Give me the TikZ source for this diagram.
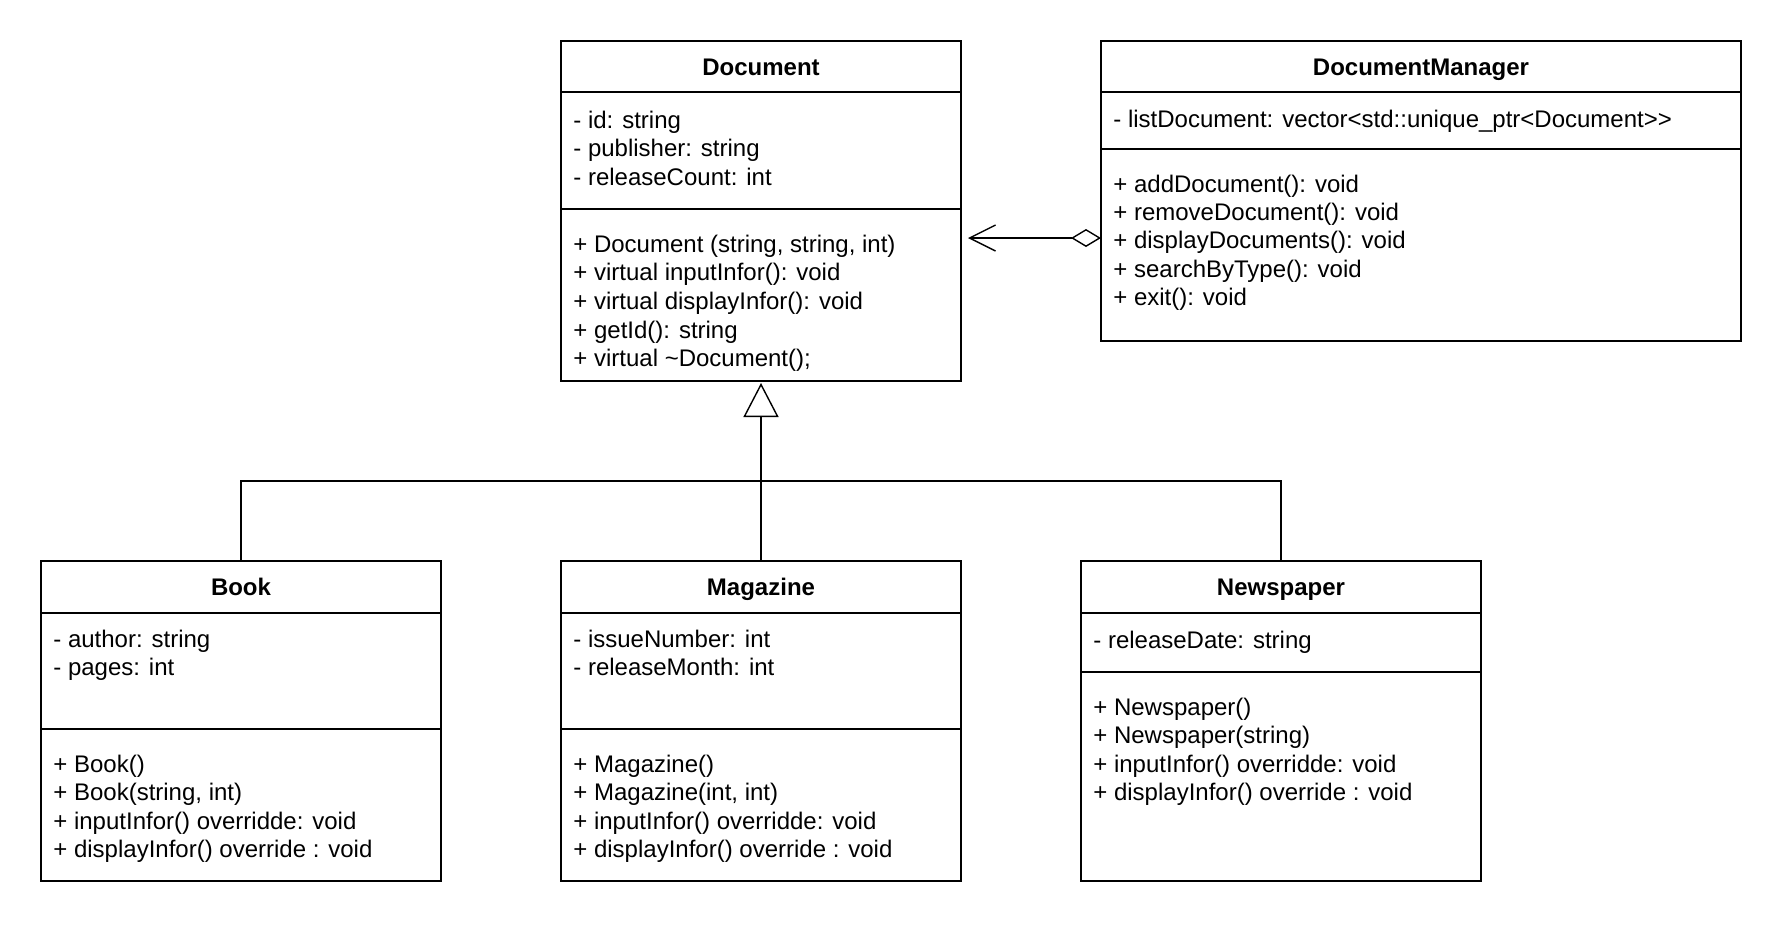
\documentclass[tikz,border=0pt]{standalone}
\usepackage{fontspec}
\setmainfont{Liberation Sans}
\usetikzlibrary{arrows.meta}

\begin{document}
\begin{tikzpicture}[x=0.5pt, y=-0.5pt,
    cls/.style = {draw, line width=0.8pt, anchor=north west, inner sep=0pt, outer sep=0pt},
    ttl/.style = {anchor=base, inner sep=0pt, font=\fontsize{12pt}{14pt}\selectfont\bfseries},
    txt/.style = {anchor=base west, inner sep=0pt, font=\fontsize{12pt}{14pt}\selectfont},
    sep/.style = {line width=0.8pt},
    lnk/.style = {line width=0.7pt}]
  \fill[white] (0,0) rectangle (1784,928);
  \useasboundingbox (0,0) rectangle (1784,928);

  % class boxes
  \node[cls, minimum width=200pt, minimum height=170pt] (doc) at (561,41) {};
  \node[cls, minimum width=320pt, minimum height=150pt] (dm) at (1101,41) {};
  \node[cls, minimum width=200pt, minimum height=160pt] (book) at (41,561) {};
  \node[cls, minimum width=200pt, minimum height=160pt] (mag) at (561,561) {};
  \node[cls, minimum width=200pt, minimum height=160pt] (news) at (1081,561) {};

  % compartments
  \draw[sep] (doc.west |- 0,92) -- (doc.east |- 0,92);
  \draw[sep] (doc.west |- 0,209) -- (doc.east |- 0,209);
  \draw[sep] (dm.west |- 0,92) -- (dm.east |- 0,92);
  \draw[sep] (dm.west |- 0,149) -- (dm.east |- 0,149);
  \draw[sep] (book.west |- 0,613) -- (book.east |- 0,613);
  \draw[sep] (book.west |- 0,729) -- (book.east |- 0,729);
  \draw[sep] (mag.west |- 0,613) -- (mag.east |- 0,613);
  \draw[sep] (mag.west |- 0,729) -- (mag.east |- 0,729);
  \draw[sep] (news.west |- 0,613) -- (news.east |- 0,613);
  \draw[sep] (news.west |- 0,672) -- (news.east |- 0,672);

  % titles
  \node[ttl] (doct) at (doc.north |- 0,75) {Document};
  \node[ttl] (dmt) at (dm.north |- 0,75) {DocumentManager};
  \node[ttl] (bookt) at (book.north |- 0,595) {Book};
  \node[ttl] (magt) at (mag.north |- 0,595) {Magazine};
  \node[ttl] (newst) at (news.north |- 0,595) {Newspaper};

  % Document
  \foreach \s [count=\i] in {{- id: string}, {- publisher: string}, {- releaseCount: int}}
    \node[txt] (doca\i) at (573,{128+28.7*(\i-1)}) {\s};
  \foreach \s [count=\i] in {{+ Document (string, string, int)}, {+ virtual inputInfor(): void},
      {+ virtual displayInfor(): void}, {+ getId(): string}, {+ virtual \textasciitilde Document();}}
    \node[txt] (docm\i) at (573,{252+28.7*(\i-1)}) {\s};

  % DocumentManager
  \node[txt] (dma1) at (1113,127) {- listDocument: vector<std::unique\_ptr<Document>{}>};
  \foreach \s [count=\i] in {{+ addDocument(): void}, {+ removeDocument(): void},
      {+ displayDocuments(): void}, {+ searchByType(): void}, {+ exit(): void}}
    \node[txt] (dmm\i) at (1113,{192+28.4*(\i-1)}) {\s};

  % Book
  \foreach \s [count=\i] in {{- author: string}, {- pages: int}}
    \node[txt] (booka\i) at (53,{647+28.5*(\i-1)}) {\s};
  \foreach \s [count=\i] in {{+ Book()}, {+ Book(string, int)},
      {+ inputInfor() overridde: void}, {+ displayInfor() override : void}}
    \node[txt] (bookm\i) at (53,{772+28.5*(\i-1)}) {\s};

  % Magazine
  \foreach \s [count=\i] in {{- issueNumber: int}, {- releaseMonth: int}}
    \node[txt] (maga\i) at (573,{647+28.5*(\i-1)}) {\s};
  \foreach \s [count=\i] in {{+ Magazine()}, {+ Magazine(int, int)},
      {+ inputInfor() overridde: void}, {+ displayInfor() override : void}}
    \node[txt] (magm\i) at (573,{772+28.5*(\i-1)}) {\s};

  % Newspaper
  \node[txt] (newsa1) at (1093,648) {- releaseDate: string};
  \foreach \s [count=\i] in {{+ Newspaper()}, {+ Newspaper(string)},
      {+ inputInfor() overridde: void}, {+ displayInfor() override : void}}
    \node[txt] (newsm\i) at (1093,{715+28.5*(\i-1)}) {\s};

  % inheritance
  \coordinate (bus) at (doc.south |- 0,481);
  \draw[lnk] (book.north) |- (bus) -| (news.north);
  \draw[lnk, -{Triangle[open, length=17pt, width=17.5pt, fill=white]}, shorten >=1pt]
    (mag.north) -- (doc.south);

  % aggregation
  \draw[lnk, {Diamond[open, length=15pt, width=9pt, fill=white]}-{Straight Barb[length=13pt, width=13pt]},
    shorten >=3.5pt] (dm.west |- 0,238) -- (doc.east |- 0,238);
\end{tikzpicture}
\end{document}
